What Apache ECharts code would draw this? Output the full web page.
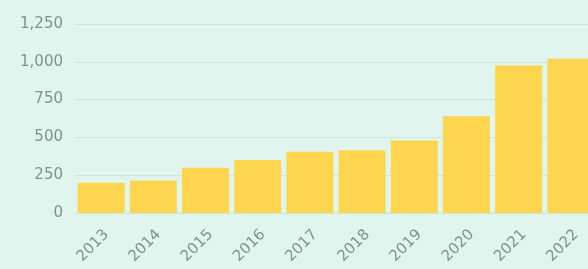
<!DOCTYPE html>
<html>
<head>
<meta charset="utf-8">
<script src="https://cdn.jsdelivr.net/npm/echarts@6/dist/echarts.min.js"></script>
<style>
  html, body { margin: 0; padding: 0; background: #e1f5ef; }
  #chart { width: 588px; height: 269px; }
</style>
</head>
<body>
<div id="chart"></div>
<script>
const years = ['2013', '2014', '2015', '2016', '2017', '2018', '2019', '2020', '2021', '2022'];
const values = [200, 215, 300, 350, 405, 415, 480, 640, 975, 1020];

const chart = echarts.init(document.getElementById('chart'));

const option = {
    backgroundColor: '#e1f5ef',
    animation: false,
    grid: {
        left: 75,
        width: 522,
        top: 24,
        bottom: 56,
        containLabel: false,
        outerBoundsMode: 'none'
    },
    xAxis: {
        type: 'category',
        data: years,
        axisLine: { show: false },
        axisTick: { show: false },
        axisLabel: {
            rotate: 45,
            margin: 14,
            verticalAlign: 'top',
            color: '#82918d',
            fontFamily: 'DejaVu Sans',
            fontSize: 15
        }
    },
    yAxis: {
        type: 'value',
        min: 0,
        max: 1250,
        interval: 250,
        axisLine: { show: false },
        axisTick: { show: false },
        axisLabel: {
            margin: 12,
            color: '#82918d',
            fontFamily: 'DejaVu Sans',
            fontSize: 15,
            formatter: v => v.toLocaleString('en-US')
        },
        splitLine: { lineStyle: { color: '#cde5dd', width: 1 } }
    },
    series: [{
        type: 'bar',
        data: values,
        barCategoryGap: '10%',
        itemStyle: { color: '#fed54e' }
    }]
};

chart.setOption(option);
</script>
</body>
</html>
